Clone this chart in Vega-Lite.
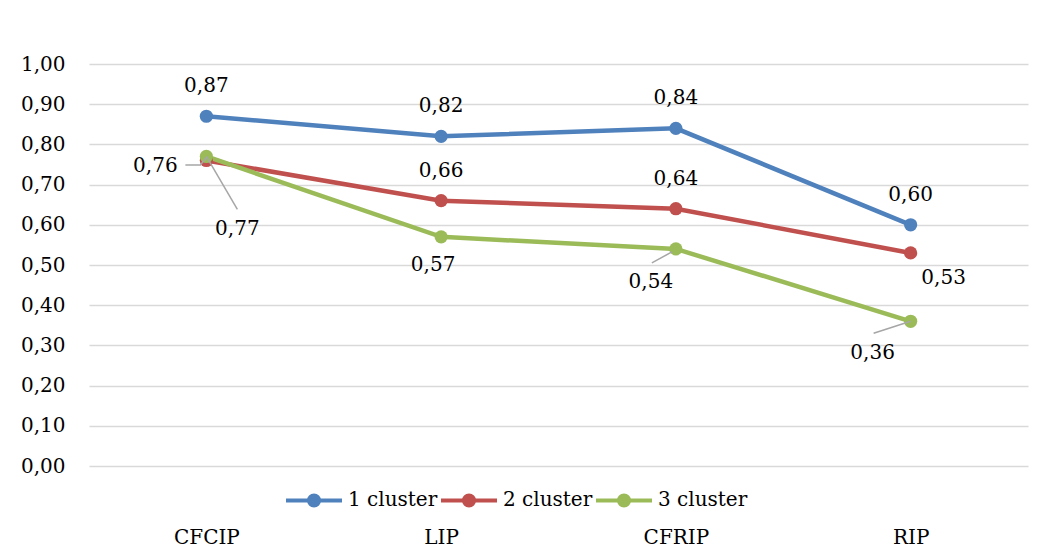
{
  "$schema": "https://vega.github.io/schema/vega-lite/v6.json",
  "autosize": {"type": "none"},
  "width": 939,
  "height": 402,
  "padding": {"left": 89, "top": 64, "right": 14, "bottom": 91},
  "background": "white",
  "config": {
    "view": {"stroke": null},
    "font": "DejaVu Serif",
    "axis": {"labelFont": "DejaVu Serif", "labelFontSize": 20, "labelColor": "#000000"}
  },
  "data": {
    "values": [
      {"cat": "CFCIP", "series": "1 cluster", "v": 0.87},
      {"cat": "LIP", "series": "1 cluster", "v": 0.82},
      {"cat": "CFRIP", "series": "1 cluster", "v": 0.84},
      {"cat": "RIP", "series": "1 cluster", "v": 0.60},
      {"cat": "CFCIP", "series": "2 cluster", "v": 0.76},
      {"cat": "LIP", "series": "2 cluster", "v": 0.66},
      {"cat": "CFRIP", "series": "2 cluster", "v": 0.64},
      {"cat": "RIP", "series": "2 cluster", "v": 0.53},
      {"cat": "CFCIP", "series": "3 cluster", "v": 0.77},
      {"cat": "LIP", "series": "3 cluster", "v": 0.57},
      {"cat": "CFRIP", "series": "3 cluster", "v": 0.54},
      {"cat": "RIP", "series": "3 cluster", "v": 0.36}
    ]
  },
  "transform": [
    {"calculate": "replace(format(datum.v, '.2f'), '.', ',')", "as": "lbl"}
  ],
  "encoding": {
    "x": {
      "field": "cat", "type": "nominal", "sort": ["CFCIP", "LIP", "CFRIP", "RIP"],
      "scale": {"type": "point", "padding": 0.5},
      "axis": {"title": null, "labelAngle": 0, "ticks": false, "domain": false, "grid": false, "labelPadding": 71, "labelBaseline": "middle", "labelFontSize": 20}
    },
    "y": {
      "field": "v", "type": "quantitative",
      "scale": {"domain": [0, 1], "nice": false},
      "axis": {"title": null, "tickCount": 11, "labelOverlap": false, "labelExpr": "replace(format(datum.value, '.2f'), '.', ',')", "ticks": false, "domain": false, "grid": true, "gridColor": "#d9d9d9", "gridWidth": 1.5, "labelPadding": 24, "labelFontSize": 20}
    }
  },
  "layer": [
    {
      "mark": {"type": "line", "strokeWidth": 4.5},
      "encoding": {
        "color": {
          "field": "series", "type": "nominal",
          "scale": {"domain": ["1 cluster", "2 cluster", "3 cluster"], "range": ["#4f81bd", "#c0504d", "#9bbb59"]},
          "legend": {
            "title": null, "orient": "none", "direction": "horizontal",
            "legendX": 195, "legendY": 406,
            "symbolType": "M-1,0 H1 M-0.18,0 A0.18,0.18 0 1,0 0.18,0 A0.18,0.18 0 1,0 -0.18,0",
            "symbolSize": 3136, "symbolStrokeWidth": 4,
            "labelFont": "DejaVu Serif", "labelFontSize": 20, "labelColor": "#000000",
            "labelOffset": 4, "columnPadding": -5,
            "encode": {"symbols": {"update": {"fill": {"scale": "color", "field": "value"}, "stroke": {"scale": "color", "field": "value"}, "strokeWidth": {"value": 4}, "opacity": {"value": 1}}}}
          }
        }
      }
    },
    {
      "mark": {"type": "point", "filled": true, "size": 175, "opacity": 1},
      "encoding": {"color": {"field": "series", "type": "nominal", "legend": null}}
    },
    {
      "transform": [{"filter": "datum.series == '2 cluster' && datum.cat == 'CFCIP'"}],
      "mark": {"type": "point", "shape": "M-21,4.5 L-6,4.5 L0,-3", "size": 4, "filled": false, "stroke": "#a6a6a6", "strokeWidth": 1.5, "opacity": 1}
    },
    {
      "transform": [{"filter": "datum.series == '3 cluster' && datum.cat == 'CFCIP'"}],
      "mark": {"type": "point", "shape": "M0,0 L31,53", "size": 4, "filled": false, "stroke": "#a6a6a6", "strokeWidth": 1.5, "opacity": 1}
    },
    {
      "transform": [{"filter": "datum.series == '3 cluster' && datum.cat == 'CFRIP'"}],
      "mark": {"type": "point", "shape": "M-24,14 L-4,3", "size": 4, "filled": false, "stroke": "#a6a6a6", "strokeWidth": 1.5, "opacity": 1}
    },
    {
      "transform": [{"filter": "datum.series == '3 cluster' && datum.cat == 'RIP'"}],
      "mark": {"type": "point", "shape": "M-37,12 L0,0", "size": 4, "filled": false, "stroke": "#a6a6a6", "strokeWidth": 1.5, "opacity": 1}
    },
    {
      "transform": [{"filter": "datum.series == '1 cluster' || (datum.series == '2 cluster' && (datum.cat == 'LIP' || datum.cat == 'CFRIP'))"}],
      "mark": {"type": "text", "dy": -30, "align": "center", "baseline": "middle", "fontSize": 20, "font": "DejaVu Serif", "color": "#000000"},
      "encoding": {"text": {"field": "lbl"}}
    },
    {
      "transform": [{"filter": "datum.series == '2 cluster' && datum.cat == 'CFCIP'"}],
      "mark": {"type": "text", "dx": -51, "dy": 6, "align": "center", "baseline": "middle", "fontSize": 20, "font": "DejaVu Serif", "color": "#000000"},
      "encoding": {"text": {"field": "lbl"}}
    },
    {
      "transform": [{"filter": "datum.series == '2 cluster' && datum.cat == 'RIP'"}],
      "mark": {"type": "text", "dx": 33, "dy": 25, "align": "center", "baseline": "middle", "fontSize": 20, "font": "DejaVu Serif", "color": "#000000"},
      "encoding": {"text": {"field": "lbl"}}
    },
    {
      "transform": [{"filter": "datum.series == '3 cluster' && datum.cat == 'CFCIP'"}],
      "mark": {"type": "text", "dx": 31, "dy": 73, "align": "center", "baseline": "middle", "fontSize": 20, "font": "DejaVu Serif", "color": "#000000"},
      "encoding": {"text": {"field": "lbl"}}
    },
    {
      "transform": [{"filter": "datum.series == '3 cluster' && datum.cat == 'LIP'"}],
      "mark": {"type": "text", "dx": -8, "dy": 28, "align": "center", "baseline": "middle", "fontSize": 20, "font": "DejaVu Serif", "color": "#000000"},
      "encoding": {"text": {"field": "lbl"}}
    },
    {
      "transform": [{"filter": "datum.series == '3 cluster' && datum.cat == 'CFRIP'"}],
      "mark": {"type": "text", "dx": -25, "dy": 33, "align": "center", "baseline": "middle", "fontSize": 20, "font": "DejaVu Serif", "color": "#000000"},
      "encoding": {"text": {"field": "lbl"}}
    },
    {
      "transform": [{"filter": "datum.series == '3 cluster' && datum.cat == 'RIP'"}],
      "mark": {"type": "text", "dx": -38, "dy": 32, "align": "center", "baseline": "middle", "fontSize": 20, "font": "DejaVu Serif", "color": "#000000"},
      "encoding": {"text": {"field": "lbl"}}
    }
  ]
}
